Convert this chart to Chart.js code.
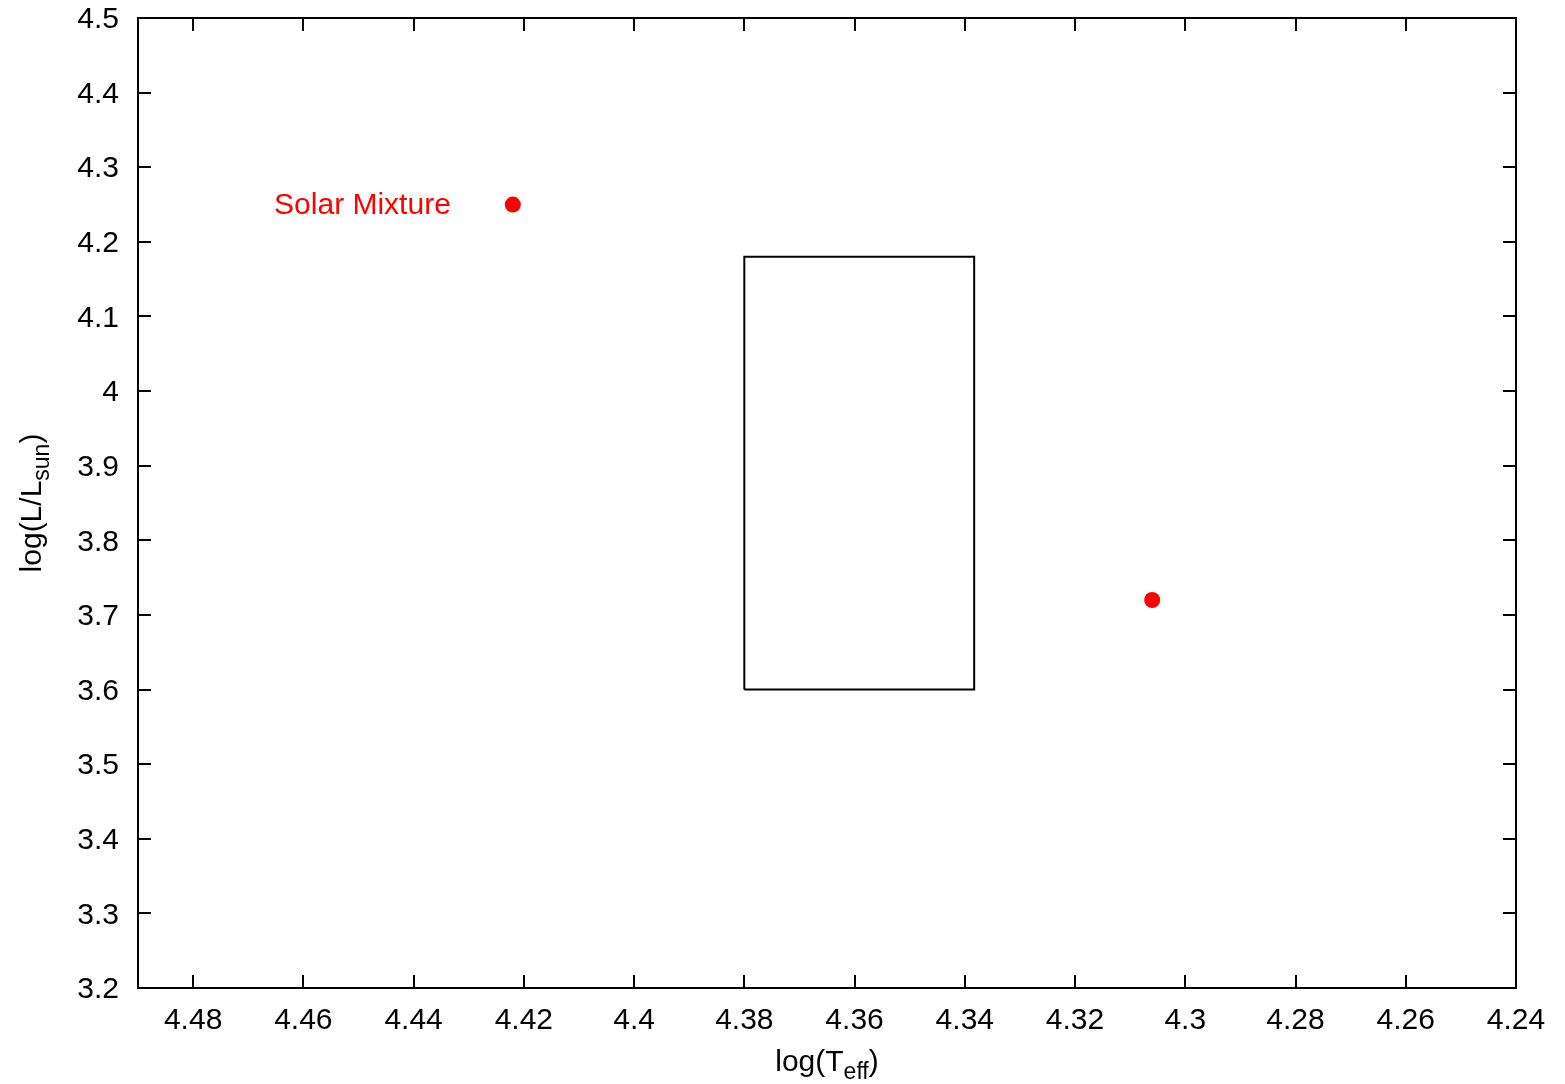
<!DOCTYPE html>
<html>
<head>
<meta charset="utf-8">
<script src="https://cdn.jsdelivr.net/npm/chart.js@4"></script>
<style>
  html, body { margin: 0; padding: 0; background: #fff; }
  #wrap { width: 1565px; height: 1084px; }
</style>
</head>
<body>
<div id="wrap"><canvas id="hr"></canvas></div>
<script>
const xTicks = [4.48, 4.46, 4.44, 4.42, 4.4, 4.38, 4.36, 4.34, 4.32, 4.3, 4.28, 4.26, 4.24];
const yTicks = [3.2, 3.3, 3.4, 3.5, 3.6, 3.7, 3.8, 3.9, 4.0, 4.1, 4.2, 4.3, 4.4, 4.5];
const starTeff = [4.422, 4.306];
const starLum = [4.25, 3.72];
const starLabels = ["Solar Mixture", ""];
const boxTeff = [4.38, 4.38, 4.3383, 4.3383, 4.38];
const boxLum = [3.6, 4.18, 4.18, 3.6, 3.6];

const FONT = '"Liberation Sans", Arial, sans-serif';
const fmt = (v) => String(+Number(v).toFixed(2));

// draws text with a subscript part: [main, sub, tail]
const drawSub = (ctx, parts, x, y) => {
  const big = "30px " + FONT, small = "23px " + FONT;
  ctx.font = big;
  const w0 = ctx.measureText(parts[0]).width;
  const w2 = ctx.measureText(parts[2]).width;
  ctx.font = small;
  const w1 = ctx.measureText(parts[1]).width;
  let cx = x - (w0 + w1 + w2) / 2;
  ctx.textAlign = "left";
  ctx.textBaseline = "alphabetic";
  ctx.font = big;
  ctx.fillText(parts[0], cx, y);
  cx += w0;
  ctx.font = small;
  ctx.fillText(parts[1], cx, y + 8);
  cx += w1;
  ctx.font = big;
  ctx.fillText(parts[2], cx, y);
};

const framePlugin = {
  id: "frame",
  afterDraw(chart) {
    const { ctx, chartArea: a, scales } = chart;
    ctx.save();
    ctx.strokeStyle = "#000";
    ctx.lineWidth = 2;
    ctx.strokeRect(a.left, a.top, a.right - a.left, a.bottom - a.top);
    ctx.beginPath();
    xTicks.forEach((v) => {
      const px = Math.round(scales.x.getPixelForValue(v));
      ctx.moveTo(px, a.bottom);
      ctx.lineTo(px, a.bottom - 13);
      ctx.moveTo(px, a.top);
      ctx.lineTo(px, a.top + 13);
    });
    yTicks.forEach((v) => {
      const py = Math.round(scales.y.getPixelForValue(v));
      ctx.moveTo(a.left, py);
      ctx.lineTo(a.left + 13, py);
      ctx.moveTo(a.right, py);
      ctx.lineTo(a.right - 13, py);
    });
    ctx.stroke();

    // axis titles
    ctx.fillStyle = "#000";
    drawSub(ctx, ["log(T", "eff", ")"], (a.left + a.right) / 2, 1071);
    ctx.translate(41, (a.top + a.bottom) / 2);
    ctx.rotate(-Math.PI / 2);
    drawSub(ctx, ["log(L/L", "sun", ")"], 0, 0);
    ctx.restore();
  },
  afterDatasetsDraw(chart) {
    const { ctx, scales } = chart;
    ctx.save();
    ctx.fillStyle = "#ff0000";
    ctx.font = "30px " + FONT;
    ctx.textAlign = "right";
    ctx.textBaseline = "middle";
    starLabels.forEach((t, i) => {
      if (!t) return;
      const px = scales.x.getPixelForValue(starTeff[i]);
      const py = scales.y.getPixelForValue(starLum[i]);
      ctx.fillText(t, px - 62, py + 1);
    });
    ctx.restore();
  }
};

new Chart(document.querySelector("#hr"), {
  type: "scatter",
  data: {
    datasets: [
      {
        label: "stars",
        data: starTeff.map((t, i) => ({ x: t, y: starLum[i] })),
        pointRadius: 8,
        pointBackgroundColor: "#ff0000",
        pointBorderWidth: 0,
        showLine: false,
      },
      {
        label: "box",
        data: boxTeff.map((t, i) => ({ x: t, y: boxLum[i] })),
        showLine: true,
        pointRadius: 0,
        borderColor: "#000",
        borderWidth: 2,
        fill: false,
      },
    ],
  },
  options: {
    responsive: true,
    maintainAspectRatio: false,
    animation: false,
    layout: { padding: { top: 18, right: 49, left: 0, bottom: 0 } },
    plugins: { legend: { display: false }, tooltip: { enabled: false } },
    scales: {
      x: {
        type: "linear",
        reverse: true,
        min: 4.24,
        max: 4.49,
        afterBuildTicks: (s) => { s.ticks = xTicks.map((v) => ({ value: v })); },
        afterFit: (s) => {
          s.height = 96;
          s.paddingLeft = 0;
          s.paddingRight = 0;
        },
        grid: { display: false, drawTicks: false },
        border: { display: false },
        ticks: {
          autoSkip: false,
          maxRotation: 0,
          padding: 15,
          color: "#000",
          font: { family: FONT, size: 30 },
          callback: (v) => fmt(v),
        },
      },
      y: {
        type: "linear",
        min: 3.2,
        max: 4.5,
        afterBuildTicks: (s) => { s.ticks = yTicks.map((v) => ({ value: v })); },
        afterFit: (s) => {
          s.width = 138;
          s.paddingTop = 0;
          s.paddingBottom = 0;
        },
        grid: { display: false, drawTicks: false },
        border: { display: false },
        ticks: {
          autoSkip: false,
          padding: 19,
          labelOffset: 2,
          color: "#000",
          font: { family: FONT, size: 30 },
          callback: (v) => fmt(v),
        },
      },
    },
  },
  plugins: [framePlugin],
});
</script>
</body>
</html>
